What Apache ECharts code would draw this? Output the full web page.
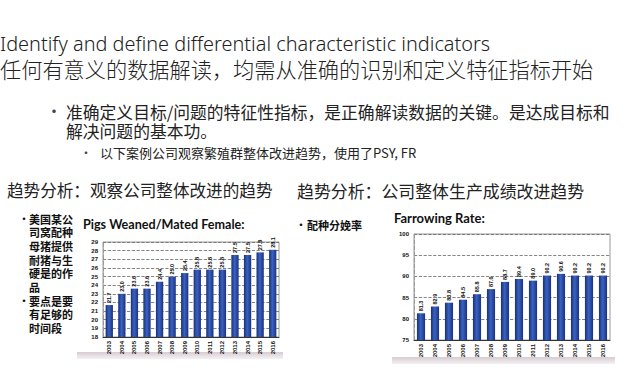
<!DOCTYPE html>
<html>
<head>
<meta charset="utf-8">
<script src="https://cdn.jsdelivr.net/npm/echarts@6/dist/echarts.min.js"></script>
<style>
html,body{margin:0;padding:0;background:#fff;}
#c{width:640px;height:386px;}
</style>
</head>
<body>
<div id="c"></div>
<script>
// ---- data ----
const years = ['2003','2004','2005','2006','2007','2008','2009','2010','2011','2012','2013','2014','2015','2016'];
const pigsWeaned = [21.7, 23.0, 23.6, 23.6, 24.4, 25.0, 25.4, 25.8, 25.8, 25.8, 27.5, 27.5, 27.8, 28.1];
const farrowingRate = [81.3, 82.9, 83.8, 84.5, 85.8, 87.0, 88.7, 89.4, 89.0, 90.2, 90.6, 90.2, 90.2, 90.2];
const pigsTicks = {min: 18, max: 29, interval: 1};
const frTicks = {min: 75, max: 100, interval: 5};

const titleEn = 'Identify and define differential characteristic indicators';
const titleZh = '任何有意义的数据解读，均需从准确的识别和定义特征指标开始';
const bullet1a = '准确定义目标/问题的特征性指标，是正确解读数据的关键。是达成目标和';
const bullet1b = '解决问题的基本功。';
const bullet2 = '以下案例公司观察繁殖群整体改进趋势，使用了PSY, FR';
const headLeft = '趋势分析：观察公司整体改进的趋势';
const headRight = '趋势分析：公司整体生产成绩改进趋势';
const noteLeft1 = ['美国某公', '司窝配种', '母猪提供', '耐猪与生', '硬是的作', '品'];
const noteLeft2 = ['要点是要', '有足够的', '时间段'];
const noteRight = '配种分娩率';
const chartTitleLeft = 'Pigs Weaned/Mated Female:';
const chartTitleRight = 'Farrowing Rate:';

const CJK = 'Noto Sans CJK SC, Noto Sans, sans-serif';
const barColor = {
  type: 'linear', x: 0, y: 0, x2: 1, y2: 0,
  colorStops: [
    {offset: 0, color: '#17307a'},
    {offset: 0.45, color: '#3a62c0'},
    {offset: 1, color: '#1a3282'}
  ]
};
const bandColor = {
  type: 'linear', x: 0, y: 0, x2: 0, y2: 1,
  colorStops: [
    {offset: 0, color: '#d6ccd2'},
    {offset: 1, color: '#f5f1f3'}
  ]
};

function txt(x, y, text, size, opts) {
  return {
    type: 'text', left: x, top: y, z: 10,
    style: Object.assign({text: text, fontSize: size, lineHeight: size, fontFamily: CJK, fill: '#111'}, opts || {})
  };
}

const graphics = [];
// shadow bands under charts
graphics.push({type: 'rect', shape: {x: 77, y: 352, width: 206, height: 7}, style: {fill: bandColor}, z: 0});
graphics.push({type: 'rect', shape: {x: 392, y: 357, width: 223, height: 7}, style: {fill: bandColor}, z: 0});

graphics.push(txt(0, 33, titleEn, 19.9, {fontFamily: 'Noto Sans, Open Sans, sans-serif', fontWeight: 300, fill: '#222'}));
graphics.push(txt(0, 58, titleZh, 21.2, {fontWeight: 300, fill: '#222'}));
graphics.push(txt(46, 102, '•', 16, {fill: '#444'}));
graphics.push(txt(66, 102, bullet1a + '\n' + bullet1b, 16.8, {fill: '#222', lineHeight: 19}));
graphics.push(txt(80, 146, '•', 12, {fill: '#444'}));
graphics.push(txt(100, 146, bullet2, 13, {fill: '#222'}));
graphics.push(txt(7, 182, headLeft, 16.6, {fill: '#222'}));
graphics.push(txt(297, 182, headRight, 16.9, {fill: '#222'}));

graphics.push(txt(19, 213, '•', 10, {fontWeight: 'bold'}));
graphics.push(txt(29, 212, noteLeft1.join('\n'), 11, {fontWeight: 'bold', lineHeight: 13.6}));
graphics.push(txt(19, 295, '•', 10, {fontWeight: 'bold'}));
graphics.push(txt(29, 294, noteLeft2.join('\n'), 11, {fontWeight: 'bold', lineHeight: 13.6}));
graphics.push(txt(296, 219, '•', 10, {fontWeight: 'bold'}));
graphics.push(txt(307, 219, noteRight, 11, {fontWeight: 'bold'}));

graphics.push(txt(83, 218, chartTitleLeft, 12.6, {fontFamily: 'Lato, Open Sans, sans-serif', fontWeight: 'bold', fill: '#111'}));
graphics.push(txt(394, 211, chartTitleRight, 13, {fontFamily: 'Lato, Open Sans, sans-serif', fontWeight: 'bold', fill: '#111'}));

function xAxis(gi) {
  return {
    type: 'category', gridIndex: gi, data: years,
    axisTick: {show: false},
    axisLine: {lineStyle: {color: '#333', width: 1}},
    axisLabel: {rotate: 90, fontSize: 6, fontWeight: 'bold', color: '#111', margin: 4, fontFamily: 'Arial, sans-serif'}
  };
}
function yAxis(gi, t) {
  return {
    type: 'value', gridIndex: gi, min: t.min, max: t.max, interval: t.interval,
    axisLine: {show: true, lineStyle: {color: '#999', type: 'dashed'}},
    axisTick: {show: false},
    splitLine: {show: true, lineStyle: {color: '#666', type: 'dashed', width: 0.8}},
    axisLabel: {fontSize: 6, fontWeight: 'bold', color: '#111', margin: 5, fontFamily: 'Arial, sans-serif'}
  };
}
function barSeries(i, data) {
  return {
    type: 'bar', xAxisIndex: i, yAxisIndex: i, data: data,
    barWidth: '58%',
    itemStyle: {color: barColor},
    label: {
      show: true, position: 'top', rotate: 90, align: 'left', verticalAlign: 'middle',
      distance: 2, fontSize: 5.5, fontWeight: 'bold', color: '#111',
      formatter: p => p.value.toFixed(1)
    }
  };
}

const chart = echarts.init(document.getElementById('c'), null, {renderer: 'svg'});
chart.setOption({
  backgroundColor: '#fff',
  animation: false,
  grid: [
    {left: 103, right: 361, top: 242, bottom: 49, show: true, borderColor: '#999', borderWidth: 1, backgroundColor: 'transparent'},
    {left: 414, right: 30, top: 234, bottom: 46, show: true, borderColor: '#999', borderWidth: 1, backgroundColor: 'transparent'}
  ],
  xAxis: [xAxis(0), xAxis(1)],
  yAxis: [yAxis(0, pigsTicks), yAxis(1, frTicks)],
  series: [barSeries(0, pigsWeaned), barSeries(1, farrowingRate)],
  graphic: graphics
});
</script>
</body>
</html>
